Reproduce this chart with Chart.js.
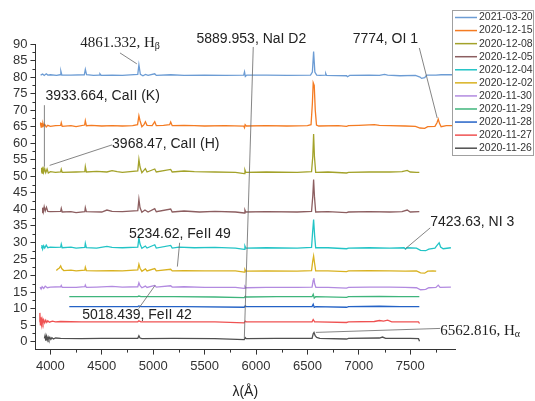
<!DOCTYPE html>
<html>
<head>
<meta charset="utf-8">
<script src="https://cdn.jsdelivr.net/npm/chart.js@4/dist/chart.umd.min.js"></script>
<style>
body{margin:0;background:#fff;}
canvas{display:block;}
</style>
</head>
<body>
<canvas id="spectra" width="535" height="401"></canvas>
<script>
// tick labels
const xTicks = [4000, 4500, 5000, 5500, 6000, 6500, 7000, 7500];
const yTicks = [0,5,10,15,20,25,30,35,40,45,50,55,60,65,70,75,80,85,90];

// observation dates (legend order, top to bottom)
const dates = ["2021-03-20","2020-12-15","2020-12-08","2020-12-05","2020-12-04","2020-12-02",
               "2020-11-30","2020-11-29","2020-11-28","2020-11-27","2020-11-26"];
const colors = ["#6c9cd4","#f47b22","#a3a22a","#8c5e60","#22c4c6","#d9b221",
                "#b28ae0","#3fb57c","#2462c6","#ef5252","#4f4f4f"];

// spectra, [wavelength, flux + offset]
const s0320 = [[3905,80.6],[3925,80.9],[3940,80.5],[3960,81.0],[3975,80.6],[4000,80.7],[4060,80.5],[4095,80.7],[4102,81.8],[4112,80.6],
  [4200,80.6],[4330,80.7],[4340,82.3],[4352,80.7],[4420,80.5],[4475,80.6],[4482,81.0],[4495,80.5],[4600,80.6],[4700,80.5],
  [4850,80.8],[4861,83.7],[4875,80.8],[4900,80.4],[4925,80.8],[4950,80.5],[5015,81.0],[5030,80.5],[5170,80.7],[5300,80.5],
  [5500,80.6],[5700,80.5],[5880,80.6],[5888,81.6],[5896,80.2],[5910,80.6],[6100,80.6],[6300,80.5],[6530,80.6],[6548,81.5],
  [6560,87.7],[6572,81.5],[6590,80.6],[6620,80.5],[6672,80.6],[6678,81.1],[6686,80.5],[6880,80.4],[6890,80.1],[6910,80.5],
  [7100,80.6],[7200,80.5],[7250,80.8],[7280,80.6],[7400,80.4],[7550,80.5],[7595,80.0],[7610,79.6],[7640,79.8],[7660,80.6],
  [7750,80.6],[7800,80.7],[7910,80.7]];
const s1215 = [[3900,65.5],[3905,66.3],[3910,64.9],[3915,66.1],[3920,65.0],[3928,66.0],[3935,65.3],[3945,65.7],[3960,64.9],[3975,65.4],
  [4000,65.1],[4050,65.3],[4100,65.4],[4106,66.2],[4115,65.1],[4200,65.3],[4250,65.0],[4333,65.5],[4340,66.8],[4350,65.3],
  [4400,65.4],[4500,65.2],[4600,65.3],[4700,65.2],[4800,65.3],[4848,65.6],[4861,68.3],[4872,66.8],[4890,65.0],[4910,65.6],
  [4924,66.5],[4940,65.4],[4990,65.3],[5015,66.5],[5030,65.3],[5100,65.4],[5160,65.6],[5170,66.4],[5185,65.3],[5300,65.4],
  [5400,65.3],[5500,65.2],[5700,65.3],[5880,65.2],[5888,64.7],[5894,65.6],[5905,65.2],[6100,65.3],[6300,65.2],[6500,65.3],
  [6535,65.6],[6548,72.0],[6556,78.3],[6566,77.5],[6576,70.0],[6588,65.5],[6610,65.2],[6800,65.3],[6880,65.1],[6900,65.3],
  [7000,65.4],[7150,65.6],[7200,65.4],[7300,65.3],[7450,65.2],[7550,65.1],[7595,64.6],[7640,64.5],[7670,65.0],[7740,65.1],
  [7760,66.2],[7772,67.3],[7784,66.0],[7800,65.0],[7850,65.3],[7910,65.3]];
const s1208 = [[3910,51.3],[3915,52.6],[3920,51.0],[3928,52.9],[3935,51.2],[3945,52.3],[3955,51.1],[3968,52.2],[3980,51.0],[4000,51.4],
  [4050,51.2],[4100,51.3],[4106,52.1],[4115,51.2],[4250,51.3],[4335,51.4],[4340,52.9],[4350,51.3],[4450,51.5],[4550,51.3],
  [4600,51.7],[4650,51.4],[4700,51.2],[4850,51.6],[4861,55.1],[4872,52.8],[4890,51.1],[4924,52.3],[4940,51.3],[5015,52.2],
  [5030,51.3],[5170,52.1],[5185,51.3],[5300,51.6],[5400,51.4],[5600,51.3],[5800,51.2],[5885,50.8],[5892,51.9],[5900,51.2],
  [6100,51.3],[6400,51.2],[6540,51.4],[6552,56.0],[6560,62.8],[6568,56.0],[6580,51.2],[6700,51.3],[6880,51.0],[6900,51.2],
  [7100,51.3],[7300,51.3],[7420,51.4],[7470,51.8],[7500,51.3],[7560,51.2],[7588,51.2]];
const s1205 = [[3920,39.0],[3925,40.5],[3932,39.3],[3940,40.8],[3950,39.5],[3962,40.6],[3975,39.4],[4000,39.3],[4100,39.4],[4106,40.3],
  [4115,39.2],[4200,39.3],[4250,39.0],[4335,39.3],[4340,40.5],[4350,39.3],[4500,39.2],[4550,39.8],[4600,39.4],[4700,39.3],
  [4850,39.6],[4861,43.1],[4872,40.5],[4890,39.1],[4920,39.8],[4950,39.2],[5015,40.2],[5030,39.3],[5170,40.1],[5185,39.2],
  [5300,39.5],[5450,39.2],[5600,39.4],[5800,39.2],[5885,38.9],[5892,39.8],[5900,39.2],[6100,39.3],[6400,39.2],[6540,39.4],
  [6552,44.0],[6560,49.0],[6568,44.0],[6580,39.2],[6700,39.3],[6880,39.0],[6900,39.2],[7100,39.3],[7300,39.2],[7420,39.3],
  [7470,39.8],[7500,39.2],[7588,39.3]];
const s1204 = [[3910,28.4],[3918,29.2],[3925,28.0],[3935,29.0],[3945,28.3],[3960,29.2],[3975,28.4],[4000,28.6],[4050,28.5],[4100,28.6],
  [4106,29.5],[4115,28.4],[4200,28.6],[4250,28.3],[4335,28.5],[4340,29.7],[4350,28.4],[4450,28.3],[4550,28.8],[4600,28.5],
  [4700,28.4],[4850,28.6],[4861,31.4],[4872,29.5],[4890,28.2],[4924,28.9],[4940,28.3],[5015,29.3],[5030,28.3],[5170,29.1],
  [5185,28.3],[5250,28.6],[5400,28.4],[5600,28.5],[5800,28.3],[5885,27.9],[5892,28.9],[5900,28.3],[6100,28.4],[6400,28.3],
  [6540,28.5],[6550,33.0],[6560,36.9],[6570,32.0],[6580,28.4],[6700,28.4],[6880,28.1],[6900,28.3],[7100,28.4],[7300,28.3],
  [7440,28.4],[7453,28.0],[7470,28.4],[7560,28.3],[7600,27.6],[7650,27.5],[7680,28.0],[7740,28.3],[7762,29.2],[7781,29.9],
  [7795,28.6],[7820,28.1],[7895,28.4]];
const s1202 = [[4058,21.5],[4070,21.9],[4085,22.2],[4100,22.9],[4110,22.1],[4130,21.5],[4200,21.6],[4250,21.4],[4335,21.6],[4340,22.5],
  [4350,21.5],[4450,21.4],[4600,21.5],[4700,21.4],[4850,21.7],[4861,23.4],[4872,22.2],[4890,21.3],[4924,22.0],[4940,21.4],
  [5015,22.1],[5030,21.4],[5170,21.9],[5185,21.4],[5300,21.5],[5500,21.4],[5800,21.4],[5885,21.0],[5892,21.8],[5900,21.3],
  [6100,21.4],[6400,21.3],[6540,21.5],[6552,24.5],[6560,25.9],[6568,24.0],[6580,21.4],[6700,21.4],[6880,21.2],[6900,21.4],
  [7100,21.5],[7300,21.4],[7450,21.3],[7560,21.4],[7600,20.8],[7640,20.7],[7670,21.3],[7720,21.4],[7752,21.3]];
const s1130 = [[3900,16.5],[3910,15.9],[3920,16.6],[3935,16.1],[3950,16.8],[3970,16.3],[4000,16.5],[4100,16.6],[4106,17.0],[4115,16.4],
  [4250,16.4],[4335,16.6],[4340,17.1],[4350,16.4],[4450,16.5],[4600,16.7],[4700,16.5],[4850,16.6],[4861,17.8],[4872,16.9],
  [4890,16.3],[4924,16.8],[4940,16.4],[5015,17.0],[5030,16.5],[5170,16.9],[5185,16.5],[5300,16.6],[5500,16.4],[5800,16.4],
  [5885,16.1],[5892,16.7],[5900,16.3],[6100,16.4],[6400,16.4],[6545,16.5],[6556,18.5],[6562,19.2],[6570,17.5],[6582,16.4],
  [6700,16.4],[6880,16.2],[6900,16.4],[7100,16.5],[7300,16.5],[7450,16.4],[7560,16.3],[7600,15.7],[7650,15.8],[7680,16.3],
  [7750,16.4],[7772,17.1],[7790,16.4],[7895,16.5]];
const s1129 = [[4184,13.6],[4300,13.6],[4500,13.6],[4850,13.6],[4861,13.8],[4880,13.6],[5200,13.6],[5600,13.5],[5885,13.3],[5895,13.7],
  [5905,13.5],[6200,13.6],[6545,13.6],[6556,14.3],[6566,13.2],[6580,13.6],[6880,13.4],[6900,13.6],[7200,13.7],[7400,13.6],[7588,13.6]];
const s1128 = [[4184,10.6],[4400,10.6],[4850,10.6],[4861,10.8],[4880,10.6],[5300,10.6],[5885,10.4],[5895,10.8],[5905,10.6],[6200,10.6],
  [6545,10.6],[6556,11.3],[6566,10.4],[6580,10.6],[6880,10.4],[6900,10.6],[7200,10.7],[7400,10.6],[7588,10.6]];
const s1127 = [[3894,6.0],[3898,8.7],[3903,5.1],[3908,7.4],[3914,5.3],[3920,6.8],[3928,5.6],[3935,6.6],[3945,5.7],[3955,6.5],
  [3965,5.8],[3975,6.3],[3990,5.9],[4020,6.2],[4050,6.0],[4100,6.1],[4300,6.0],[4500,6.0],[4850,6.0],[4861,6.3],[4880,6.0],
  [5200,6.0],[5600,6.0],[5885,5.7],[5895,6.2],[5905,6.0],[6200,6.0],[6545,6.0],[6556,6.7],[6570,6.0],[6600,6.0],[6880,5.8],
  [6900,6.0],[7150,6.1],[7200,6.4],[7240,6.2],[7280,6.5],[7320,6.0],[7500,6.0],[7580,6.0],[7590,5.5]];
const s1126 = [[3942,1.0],[3948,1.8],[3955,0.3],[3962,1.6],[3970,0.5],[3978,1.4],[3986,0.6],[3995,1.3],[4005,0.7],[4015,1.2],
  [4030,0.8],[4050,1.1],[4100,1.0],[4300,0.9],[4500,1.0],[4850,1.0],[4861,1.8],[4872,1.1],[4890,0.9],[5200,1.0],[5600,0.9],
  [5885,0.6],[5895,1.2],[5905,0.9],[6200,1.0],[6545,1.0],[6556,2.4],[6564,2.8],[6575,1.8],[6590,1.3],[6620,1.0],[6880,0.8],
  [6900,1.0],[7200,1.1],[7230,1.4],[7260,1.0],[7500,1.0],[7580,0.9],[7590,0.1]];
const spectra = [s0320, s1215, s1208, s1205, s1204, s1202, s1130, s1129, s1128, s1127, s1126];

// line identifications: label, text anchor (left, middle) and leader line, all in data units
const lineIds = [
  {text:"4861.332, H", sub:"β", serif:true, at:[4290,90.4], from:[4677,87.3], to:[4841,84.0]},
  {text:"5889.953, NaI D2", at:[5421,91.6], from:[5973,89.1], to:[5886,0.9]},
  {text:"7774, OI 1", at:[6940,91.6], from:[7588,88.8], to:[7762,67.6]},
  {text:"3933.664, CaII (K)", at:[3952,74.3], from:[3942,71.5], to:[3942,52.9]},
  {text:"3968.47, CaII (H)", at:[4600,59.6], from:[4600,59.5], to:[3993,53.3]},
  {text:"5234.62, FeII 49", at:[4764,32.6], from:[5257,29.9], to:[5235,22.7]},
  {text:"5018.439, FeII 42", at:[4309,8.0], from:[4858,10.0], to:[5018,17.0]},
  {text:"7423.63, NI 3", at:[7694,36.1], from:[7694,34.4], to:[7453,28.1]},
  {text:"6562.816, H", sub:"α", serif:true, at:[7791,3.3], from:[7791,4.0], to:[6582,2.8]}
];

const sans = "'Liberation Sans', Arial, sans-serif";
const serif = "'Liberation Serif', 'Times New Roman', serif";

const minorTicks = {
  id: "minorTicks",
  afterDraw(chart){
    const c = chart.ctx, a = chart.chartArea;
    const xs = chart.scales.x, ys = chart.scales.y;
    c.save();
    c.strokeStyle = "#333";
    c.lineWidth = 1;
    c.beginPath();
    for (let v = xTicks[0] - 250; v <= xs.max; v += 250) {
      if (v < xs.min || xTicks.includes(v)) continue;
      const px = Math.round(xs.getPixelForValue(v)) + 0.5;
      c.moveTo(px, a.bottom); c.lineTo(px, a.bottom + 3);
    }
    for (let v = 2.5; v < ys.max; v += 5) {
      const py = Math.round(ys.getPixelForValue(v)) + 0.5;
      c.moveTo(a.left, py); c.lineTo(a.left - 3, py);
    }
    c.stroke();
    c.restore();
  }
};

const labels = {
  id: "lineLabels",
  afterDatasetsDraw(chart){
    const c = chart.ctx;
    const xs = chart.scales.x, ys = chart.scales.y;
    const px = p => [xs.getPixelForValue(p[0]), ys.getPixelForValue(p[1])];
    c.save();
    c.strokeStyle = "#666";
    c.lineWidth = 0.8;
    lineIds.forEach(l => {
      const f = px(l.from), t = px(l.to);
      c.beginPath(); c.moveTo(f[0], f[1]); c.lineTo(t[0], t[1]); c.stroke();
    });
    c.fillStyle = "#222";
    c.textBaseline = "middle";
    c.textAlign = "left";
    lineIds.forEach(l => {
      const p = px(l.at);
      c.font = l.serif ? "15px " + serif : "14px " + sans;
      c.fillText(l.text, p[0], p[1]);
      if (l.sub) {
        const w = c.measureText(l.text).width;
        c.font = "10px " + serif;
        c.fillText(l.sub, p[0] + w, p[1] + 4);
      }
    });
    c.restore();
  }
};

const legendBox = {
  id: "legendBox",
  afterDraw(chart){
    const c = chart.ctx;
    c.save();
    c.fillStyle = "#fff";
    c.fillRect(452, 10, 81, 145);
    c.strokeStyle = "#a0a0a0";
    c.lineWidth = 1;
    c.strokeRect(452.5, 10.5, 81, 145);
    c.font = "10.5px " + sans;
    c.textBaseline = "middle";
    c.fillStyle = "#333";
    chart.data.datasets.forEach((ds, i) => {
      const y = 17.5 + i * 13.07;
      c.strokeStyle = ds.borderColor;
      c.lineWidth = 1.5;
      c.beginPath(); c.moveTo(455, y); c.lineTo(477, y); c.stroke();
      c.fillText(ds.label, 479, y);
    });
    c.restore();
  }
};

new Chart(document.getElementById("spectra"), {
  type: "line",
  data: {
    datasets: dates.map((d, i) => ({
      label: d,
      data: spectra[i],
      borderColor: colors[i],
      borderWidth: 1.3,
      pointRadius: 0,
      tension: 0,
      fill: false
    }))
  },
  options: {
    responsive: false,
    animation: false,
    layout: {padding: {left: 10, top: 44, right: 80, bottom: 0}},
    plugins: {legend: {display: false}, tooltip: {enabled: false}},
    scales: {
      x: {
        type: "linear", min: 3855, max: 7935,
        afterBuildTicks: s => { s.ticks = xTicks.map(v => ({value: v})); },
        grid: {drawOnChartArea: false, drawTicks: true, tickLength: 5, color: "#333"},
        border: {display: true, color: "#333", width: 1},
        ticks: {font: {family: sans, size: 13}, color: "#333", padding: 4, maxRotation: 0,
                autoSkip: false, callback: v => String(v)},
        title: {display: true, text: "λ(Å)", font: {family: sans, size: 14}, color: "#222", padding: {top: 6, bottom: 0}}
      },
      y: {
        min: -2.4, max: 90,
        afterBuildTicks: s => { s.ticks = yTicks.map(v => ({value: v})); },
        grid: {drawOnChartArea: false, drawTicks: true, tickLength: 5, color: "#333"},
        border: {display: true, color: "#333", width: 1},
        ticks: {font: {family: sans, size: 13}, color: "#333", padding: 3,
                autoSkip: false, callback: v => String(v)}
      }
    }
  },
  plugins: [minorTicks, labels, legendBox]
});
</script>
</body>
</html>
